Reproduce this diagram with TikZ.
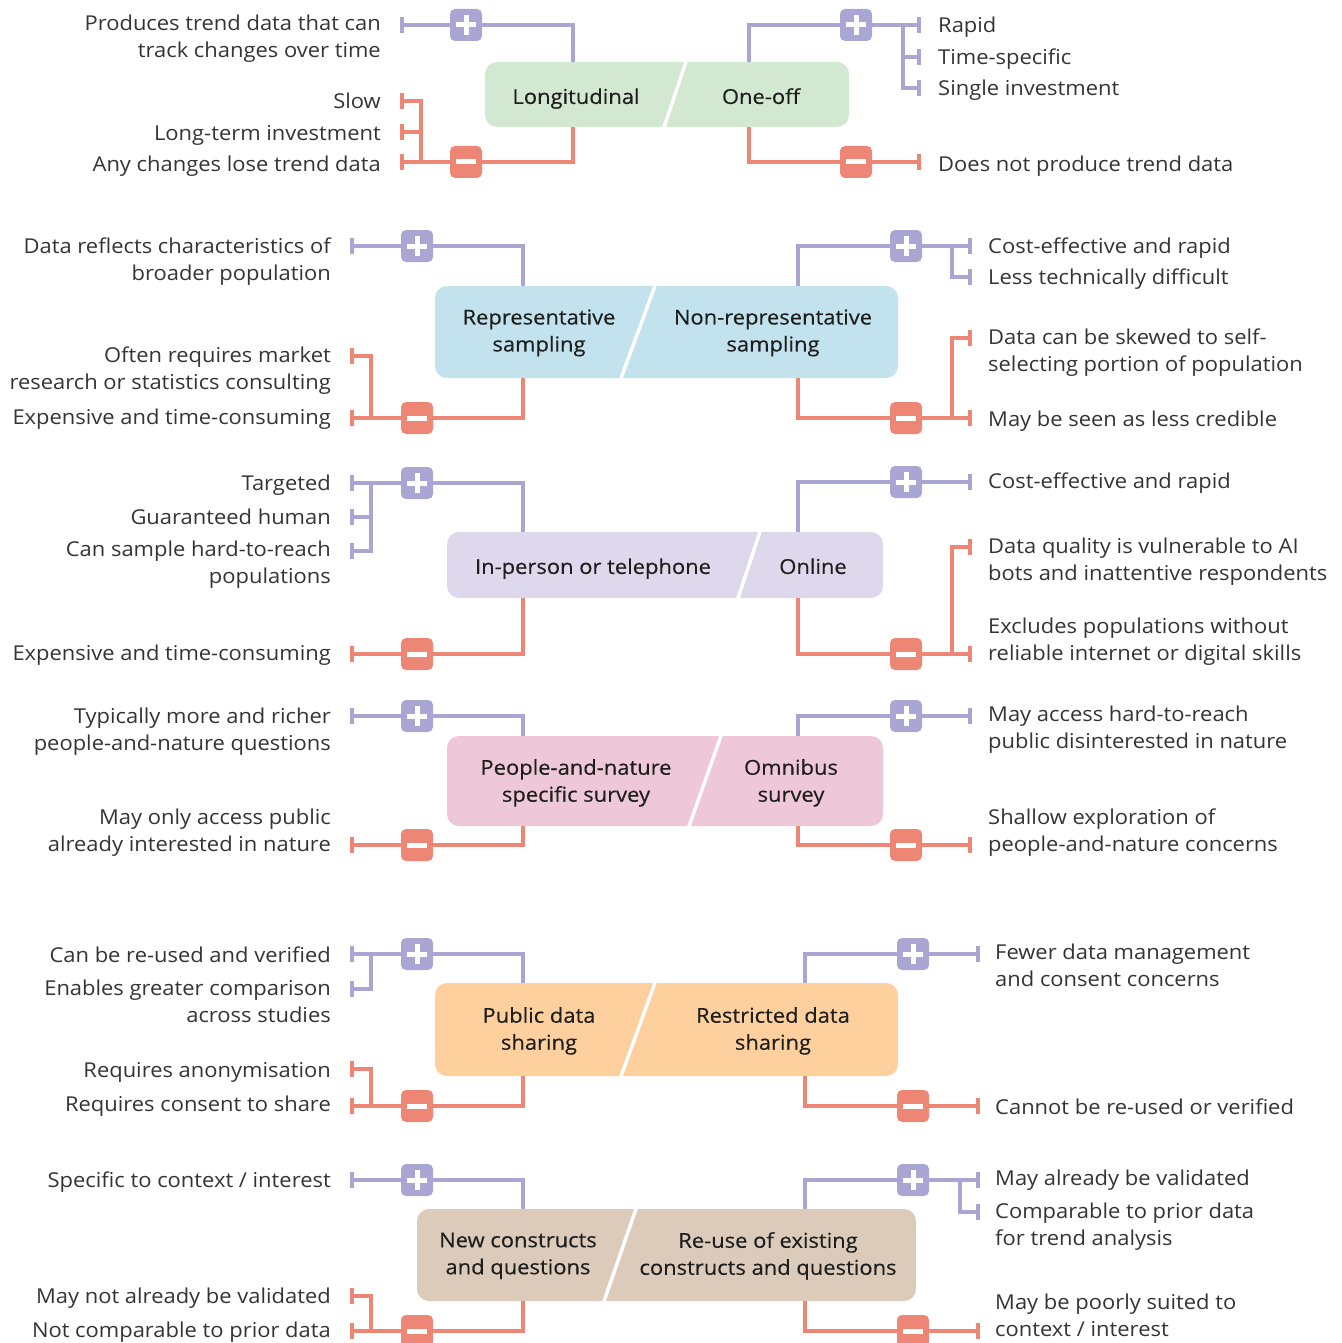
\documentclass[tikz,border=0pt]{standalone}
\usepackage{fontspec}
\setmainfont[FakeStretch=1.07]{Open Sans}
\newfontfamily\ttlfont[FakeStretch=1.07,FakeBold=0.3]{Open Sans}
\usepackage{tikz}
\usetikzlibrary{arrows.meta}
\definecolor{procol}{RGB}{170,166,212}
\definecolor{concol}{RGB}{238,134,118}
\definecolor{txtcol}{RGB}{52,52,52}
\definecolor{ttlcol}{RGB}{30,30,30}
\definecolor{boxgreen}{RGB}{210,232,208}
\definecolor{boxblue}{RGB}{194,226,238}
\definecolor{boxlav}{RGB}{221,216,236}
\definecolor{boxpink}{RGB}{238,200,216}
\definecolor{boxorange}{RGB}{253,208,158}
\definecolor{boxtan}{RGB}{220,203,186}
\tikzset{}

\begin{document}
\begin{tikzpicture}[x=1pt,y=-1pt]
    \tikzset{
        pc box/.style={rectangle,rounded corners=12pt,inner sep=0},
        pc slash/.style={draw=white,line width=3.5pt},
        pc text/.style={font=\fontsize{20.5}{27}\selectfont,text=txtcol,inner sep=0,yshift=-2.5pt,
            execute at begin node=\strut,execute at end node=\strut},
        pc left/.style={pc text,anchor=east,align=right},
        pc right/.style={pc text,anchor=west,align=left},
        pc title/.style={pc text,align=center,text=ttlcol,font=\ttlfont\fontsize{20.5}{27}\selectfont},
        pro line/.style={draw=procol,line width=4pt},
        con line/.style={draw=concol,line width=4pt},
        pro end/.style={pro line,-{Bar[width=16pt]}},
        con end/.style={con line,-{Bar[width=16pt]}},
        pro badge/.style={rectangle,rounded corners=5pt,fill=procol,minimum size=32pt,inner sep=0,
            path picture={\draw[white,line width=5pt] (path picture bounding box.center) +(-10pt,0) -- +(10pt,0)
                (path picture bounding box.center) +(0,-10pt) -- +(0,10pt);}},
        con badge/.style={rectangle,rounded corners=5pt,fill=concol,minimum size=32pt,inner sep=0,
            path picture={\draw[white,line width=5pt] (path picture bounding box.center) +(-10pt,0) -- +(10pt,0);}}
    }
    \useasboundingbox (0,0) rectangle (1341,1343);

    % ---- longitudinal / one-off
    \node[pc box,fill=boxgreen,minimum width=364,minimum height=65] (lon) at (667,94.5) {};
    \draw[pc slash] (lon.north -| 686,0) -- (lon.south -| 664,0);
    \node[pc title] (lonT) at (576,96) {Longitudinal};
    \node[pc title] (oneT) at (761,96) {One-off};
    \node[pro badge] (lonP) at (466,25) {};
    \node[con badge] (lonM) at (466,162) {};
    \node[pro badge] (oneP) at (856,25) {};
    \node[con badge] (oneM) at (856,162) {};
    \coordinate (lonP1) at (400,25);
    \coordinate (lonM1) at (400,162);
    \coordinate (lonM2) at (400,101);
    \coordinate (lonM3) at (400,132);
    \coordinate (oneP1) at (921,25);
    \coordinate (oneP2) at (921,57);
    \coordinate (oneP3) at (921,88);
    \coordinate (oneM1) at (921,162);
    \draw[pro line] (lon.north -| 573,0) |- (lonP);
    \draw[pro end] (lonP) -- (lonP1);
    \draw[con line] (lon.south -| 573,0) |- (lonM);
    \draw[con end] (lonM) -- (lonM1);
    \draw[con end] (lonM1) ++(21,0) |- (lonM2);
    \draw[con end] (lonM3) ++(21,0) -- (lonM3);
    \draw[pro line] (lon.north -| 749,0) |- (oneP);
    \draw[pro end] (oneP) -- (oneP1);
    \draw[pro end] (oneP1) ++(-18,0) |- (oneP3);
    \draw[pro end] (oneP2) ++(-18,0) -- (oneP2);
    \draw[con line] (lon.south -| 749,0) |- (oneM);
    \draw[con end] (oneM) -- (oneM1);
    \node[pc left] (lonA) at (381,37.5) {Produces trend data that can\\track changes over time};
    \node[pc left] (lonB) at (381,101) {Slow};
    \node[pc left] (lonC) at (381,133) {Long-term investment};
    \node[pc left] (lonD) at (381,164) {Any changes lose trend data};
    \node[pc right] (oneA) at (938,25) {Rapid};
    \node[pc right] (oneB) at (938,57) {Time-specific};
    \node[pc right] (oneC) at (938,88) {Single investment};
    \node[pc right] (oneD) at (938,164) {Does not produce trend data};

    % ---- representative / non-representative
    \node[pc box,fill=boxblue,minimum width=463,minimum height=92] (rep) at (666.5,332) {};
    \draw[pc slash] (rep.north -| 655,0) -- (rep.south -| 621,0);
    \node[pc title] (repT) at (539,332) {Representative\\sampling};
    \node[pc title] (nonT) at (773,332) {Non-representative\\sampling};
    \node[pro badge] (repP) at (417,246) {};
    \node[con badge] (repM) at (417,418) {};
    \node[pro badge] (nonP) at (906,246) {};
    \node[con badge] (nonM) at (906,418) {};
    \coordinate (repP1) at (350,246);
    \coordinate (repM1) at (350,418);
    \coordinate (repM2) at (350,356);
    \coordinate (nonP1) at (972,246);
    \coordinate (nonP2) at (972,277);
    \coordinate (nonM1) at (972,418);
    \coordinate (nonM2) at (972,338);
    \draw[pro line] (rep.north -| 523,0) |- (repP);
    \draw[pro end] (repP) -- (repP1);
    \draw[con line] (rep.south -| 523,0) |- (repM);
    \draw[con end] (repM) -- (repM1);
    \draw[con end] (repM1) ++(21,0) |- (repM2);
    \draw[pro line] (rep.north -| 798,0) |- (nonP);
    \draw[pro end] (nonP) -- (nonP1);
    \draw[pro end] (nonP1) ++(-20,0) |- (nonP2);
    \draw[con line] (rep.south -| 798,0) |- (nonM);
    \draw[con end] (nonM) -- (nonM1);
    \draw[con end] (nonM1) ++(-20,0) |- (nonM2);
    \node[pc left] (repA) at (331,260.5) {Data reflects characteristics of\\broader population};
    \node[pc left] (repB) at (331,369.5) {Often requires market\\research or statistics consulting};
    \node[pc left] (repC) at (331,417) {Expensive and time-consuming};
    \node[pc right] (nonA) at (988,246) {Cost-effective and rapid};
    \node[pc right] (nonB) at (988,277) {Less technically difficult};
    \node[pc right] (nonC) at (988,351.5) {Data can be skewed to self-\\selecting portion of population};
    \node[pc right] (nonD) at (988,419) {May be seen as less credible};

    % ---- in-person / online
    \node[pc box,fill=boxlav,minimum width=436,minimum height=66] (per) at (665,565) {};
    \draw[pc slash] (per.north -| 760,0) -- (per.south -| 738,0);
    \node[pc title] (perT) at (593,566) {In-person or telephone};
    \node[pc title] (onlT) at (813,566) {Online};
    \node[pro badge] (perP) at (417,483) {};
    \node[con badge] (perM) at (417,654) {};
    \node[pro badge] (onlP) at (906,482) {};
    \node[con badge] (onlM) at (906,654) {};
    \coordinate (perP1) at (350,483);
    \coordinate (perP2) at (350,517);
    \coordinate (perP3) at (350,551);
    \coordinate (perM1) at (350,654);
    \coordinate (onlP1) at (972,482);
    \coordinate (onlM1) at (972,654);
    \coordinate (onlM2) at (972,547);
    \draw[pro line] (per.north -| 523,0) |- (perP);
    \draw[pro end] (perP) -- (perP1);
    \draw[pro end] (perP1) ++(21,0) |- (perP3);
    \draw[pro end] (perP2) ++(21,0) -- (perP2);
    \draw[con line] (per.south -| 523,0) |- (perM);
    \draw[con end] (perM) -- (perM1);
    \draw[pro line] (per.north -| 798,0) |- (onlP);
    \draw[pro end] (onlP) -- (onlP1);
    \draw[con line] (per.south -| 798,0) |- (onlM);
    \draw[con end] (onlM) -- (onlM1);
    \draw[con end] (onlM1) ++(-20,0) |- (onlM2);
    \node[pc left] (perA) at (331,483) {Targeted};
    \node[pc left] (perB) at (331,517) {Guaranteed human};
    \node[pc left] (perC) at (331,564) {Can sample hard-to-reach\\populations};
    \node[pc left] (perD) at (331,653) {Expensive and time-consuming};
    \node[pc right] (onlA) at (988,481) {Cost-effective and rapid};
    \node[pc right] (onlB) at (988,560.5) {Data quality is vulnerable to AI\\bots and inattentive respondents};
    \node[pc right] (onlC) at (988,641) {Excludes populations without\\reliable internet or digital skills};

    % ---- people-and-nature / omnibus
    \node[pc box,fill=boxpink,minimum width=436,minimum height=90] (peo) at (665,781) {};
    \draw[pc slash] (peo.north -| 721,0) -- (peo.south -| 689,0);
    \node[pc title] (peoT) at (576,782) {People-and-nature\\specific survey};
    \node[pc title] (omnT) at (791,782) {Omnibus\\survey};
    \node[pro badge] (peoP) at (417,716) {};
    \node[con badge] (peoM) at (417,845) {};
    \node[pro badge] (omnP) at (906,716) {};
    \node[con badge] (omnM) at (906,845) {};
    \coordinate (peoP1) at (350,716);
    \coordinate (peoM1) at (350,845);
    \coordinate (omnP1) at (972,716);
    \coordinate (omnM1) at (972,845);
    \draw[pro line] (peo.north -| 523,0) |- (peoP);
    \draw[pro end] (peoP) -- (peoP1);
    \draw[con line] (peo.south -| 523,0) |- (peoM);
    \draw[con end] (peoM) -- (peoM1);
    \draw[pro line] (peo.north -| 798,0) |- (omnP);
    \draw[pro end] (omnP) -- (omnP1);
    \draw[con line] (peo.south -| 798,0) |- (omnM);
    \draw[con end] (omnM) -- (omnM1);
    \node[pc left] (peoA) at (331,730.5) {Typically more and richer\\people-and-nature questions};
    \node[pc left] (peoB) at (331,831.5) {May only access public\\already interested in nature};
    \node[pc right] (omnA) at (988,728.5) {May access hard-to-reach\\public disinterested in nature};
    \node[pc right] (omnB) at (988,831.5) {Shallow exploration of\\people-and-nature concerns};

    % ---- public / restricted data sharing
    \node[pc box,fill=boxorange,minimum width=463,minimum height=93] (pub) at (666.5,1029.5) {};
    \draw[pc slash] (pub.north -| 655,0) -- (pub.south -| 621,0);
    \node[pc title] (pubT) at (539,1030) {Public data\\sharing};
    \node[pc title] (resT) at (773,1030) {Restricted data\\sharing};
    \node[pro badge] (pubP) at (417,954) {};
    \node[con badge] (pubM) at (417,1106) {};
    \node[pro badge] (resP) at (913,954) {};
    \node[con badge] (resM) at (913,1106) {};
    \coordinate (pubP1) at (350,954);
    \coordinate (pubP2) at (350,989);
    \coordinate (pubM1) at (350,1106);
    \coordinate (pubM2) at (350,1069);
    \coordinate (resP1) at (980,954);
    \coordinate (resM1) at (980,1106);
    \draw[pro line] (pub.north -| 523,0) |- (pubP);
    \draw[pro end] (pubP) -- (pubP1);
    \draw[pro end] (pubP1) ++(21,0) |- (pubP2);
    \draw[con line] (pub.south -| 523,0) |- (pubM);
    \draw[con end] (pubM) -- (pubM1);
    \draw[con end] (pubM1) ++(21,0) |- (pubM2);
    \draw[pro line] (pub.north -| 805,0) |- (resP);
    \draw[pro end] (resP) -- (resP1);
    \draw[con line] (pub.south -| 805,0) |- (resM);
    \draw[con end] (resM) -- (resM1);
    \node[pc left] (pubA) at (331,955) {Can be re-used and verified};
    \node[pc left] (pubB) at (331,1002.5) {Enables greater comparison\\across studies};
    \node[pc left] (pubC) at (331,1070) {Requires anonymisation};
    \node[pc left] (pubD) at (331,1104) {Requires consent to share};
    \node[pc right] (resA) at (995,966.5) {Fewer data management\\and consent concerns};
    \node[pc right] (resB) at (995,1107) {Cannot be re-used or verified};

    % ---- new constructs / re-use
    \node[pc box,fill=boxtan,minimum width=499,minimum height=92] (new) at (666.5,1255) {};
    \draw[pc slash] (new.north -| 636,0) -- (new.south -| 604,0);
    \node[pc title] (newT) at (518,1255) {New constructs\\and questions};
    \node[pc title] (reuT) at (768,1255) {Re-use of existing\\constructs and questions};
    \node[pro badge] (newP) at (417,1180) {};
    \node[con badge] (newM) at (417,1331) {};
    \node[pro badge] (reuP) at (913,1180) {};
    \node[con badge] (reuM) at (913,1331) {};
    \coordinate (newP1) at (350,1180);
    \coordinate (newM1) at (350,1331);
    \coordinate (newM2) at (350,1296);
    \coordinate (reuP1) at (980,1180);
    \coordinate (reuP2) at (980,1212);
    \coordinate (reuM1) at (980,1331);
    \draw[pro line] (new.north -| 523,0) |- (newP);
    \draw[pro end] (newP) -- (newP1);
    \draw[con line] (new.south -| 523,0) |- (newM);
    \draw[con end] (newM) -- (newM1);
    \draw[con end] (newM1) ++(21,0) |- (newM2);
    \draw[pro line] (new.north -| 805,0) |- (reuP);
    \draw[pro end] (reuP) -- (reuP1);
    \draw[pro end] (reuP1) ++(-20,0) |- (reuP2);
    \draw[con line] (new.south -| 805,0) |- (reuM);
    \draw[con end] (reuM) -- (reuM1);
    \node[pc left] (newA) at (331,1180) {Specific to context / interest};
    \node[pc left] (newB) at (331,1296) {May not already be validated};
    \node[pc left] (newC) at (331,1330) {Not comparable to prior data};
    \node[pc right] (reuA) at (995,1178) {May already be validated};
    \node[pc right] (reuB) at (995,1225.5) {Comparable to prior data\\for trend analysis};
    \node[pc right] (reuC) at (995,1317) {May be poorly suited to\\context / interest};
\end{tikzpicture}
\end{document}
